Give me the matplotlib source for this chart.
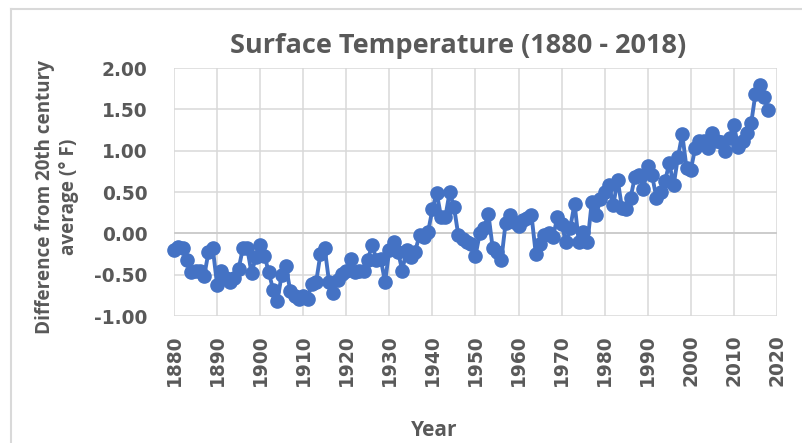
"""Surface temperature anomaly line chart (1880 - 2018)."""

import matplotlib
import matplotlib.pyplot as plt
from matplotlib.lines import Line2D

matplotlib.use('Agg')

years = list(range(1880, 2019))
anomaly_f = [
    -0.20, -0.16, -0.18, -0.32, -0.47, -0.46, -0.45, -0.52, -0.23, -0.18,
    -0.62, -0.45, -0.54, -0.59, -0.54, -0.43, -0.18, -0.18, -0.48, -0.29,
    -0.14, -0.27, -0.47, -0.68, -0.82, -0.50, -0.40, -0.70, -0.76, -0.79,
    -0.76, -0.79, -0.61, -0.59, -0.25, -0.18, -0.59, -0.72, -0.56, -0.49,
    -0.45, -0.31, -0.47, -0.45, -0.46, -0.32, -0.14, -0.32, -0.31, -0.59,
    -0.20, -0.11, -0.22, -0.45, -0.20, -0.29, -0.22, -0.02, -0.04, 0.02,
    0.29, 0.49, 0.20, 0.20, 0.50, 0.32, -0.02, -0.07, -0.11, -0.13,
    -0.27, 0.00, 0.07, 0.23, -0.18, -0.23, -0.32, 0.13, 0.22, 0.14,
    0.09, 0.16, 0.18, 0.22, -0.25, -0.13, -0.02, 0.00, -0.05, 0.20,
    0.11, -0.11, 0.07, 0.36, -0.11, 0.02, -0.11, 0.38, 0.22, 0.41,
    0.50, 0.58, 0.34, 0.65, 0.31, 0.29, 0.43, 0.68, 0.70, 0.54,
    0.81, 0.70, 0.43, 0.50, 0.63, 0.85, 0.58, 0.92, 1.20, 0.79,
    0.77, 1.03, 1.12, 1.12, 1.03, 1.21, 1.12, 1.10, 0.99, 1.15,
    1.31, 1.04, 1.12, 1.21, 1.33, 1.69, 1.80, 1.65, 1.49,
]
x_ticks = list(range(1880, 2021, 10))
y_ticks = [-1.0, -0.5, 0.0, 0.5, 1.0, 1.5, 2.0]

BLUE = '#4472C4'
GREY_TXT = '#595959'
GRID = '#d9d9d9'

fig = plt.figure(figsize=(8.02, 4.43), dpi=100)
ax = fig.add_axes([174 / 802, 1 - 316 / 443, 603 / 802, 248 / 443])

ax.plot(years, anomaly_f, color=BLUE, lw=2.8, marker='o', markersize=9.5,
        markerfacecolor=BLUE, markeredgecolor=BLUE, zorder=3, clip_on=False)

ax.set_xlim(1880, 2020)
ax.set_ylim(-1.0, 2.0)
ax.set_xticks(x_ticks)
ax.set_yticks(y_ticks)
ax.set_yticklabels([f'{v:.2f}' for v in y_ticks])
ax.grid(True, color=GRID, lw=1.1)
ax.axhline(0, color='#c8c8c8', lw=1.1, zorder=1)
ax.set_axisbelow(True)
for sp in ax.spines.values():
    sp.set_visible(False)

ax.tick_params(axis='both', length=0, colors=GREY_TXT)
ax.tick_params(axis='y', pad=19)
ax.tick_params(axis='x', pad=13)
for lbl in ax.get_xticklabels() + ax.get_yticklabels():
    lbl.set_fontfamily('DejaVu Sans')
    lbl.set_fontweight('bold')
    lbl.set_fontsize(13.4)
for lbl in ax.get_xticklabels():
    lbl.set_rotation(90)

fig.text(458 / 802, 1 - 46 / 443, 'Surface Temperature (1880 - 2018)', ha='center',
         va='center', fontsize=19.5, fontweight='bold', family='Open Sans', color=GREY_TXT)
fig.text(434 / 802, 1 - 430 / 443, 'Year', ha='center', va='center', fontsize=15,
         fontweight='bold', family='Open Sans', color=GREY_TXT)
fig.text(57 / 802, 1 - 197 / 443, 'Difference from 20th century\naverage (° F)',
         ha='center', va='center', rotation=90, fontsize=13.6, fontweight='bold',
         family='Open Sans', color=GREY_TXT, linespacing=1.3)

# chart frame
fig.add_artist(Line2D([11 / 802, 1.0], [1 - 9 / 443, 1 - 9 / 443], color=GRID, lw=1.5))
fig.add_artist(Line2D([11 / 802, 11 / 802], [0.0, 1 - 9 / 443], color=GRID, lw=1.5))

fig.savefig('out.png', dpi=100)
plt.close(fig)
